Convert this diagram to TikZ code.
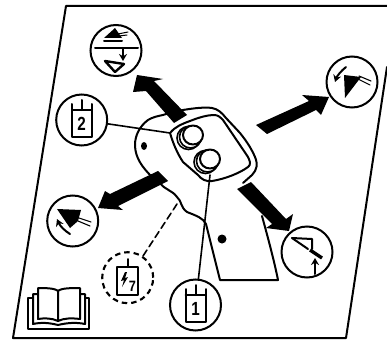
\documentclass[tikz,border=0pt]{standalone}
\usepackage{fontspec}
\setmainfont{Liberation Sans}
\usetikzlibrary{arrows.meta}
\tikzset{
  line/.style={draw=black,line width=2pt,line cap=round,line join=round},
  thinl/.style={draw=black,line width=1.6pt,line cap=round,line join=round},
  ring/.style={circle,draw=black,line width=2pt,minimum size=51pt,inner sep=0pt,fill=white},
  dashring/.style={circle,draw=black,line width=2.1pt,dash pattern=on 5.5pt off 4pt,minimum size=51pt,inner sep=0pt},
  bigarrow/.style={fill=black,draw=none},
  digit/.style={font=\bfseries\fontsize{19}{19}\selectfont,inner sep=0pt,xscale=.8},
  tipa/.style={-{Stealth[length=7pt,width=8pt]}},
}
\begin{document}
\begin{tikzpicture}[x=1pt,y=-1pt]
\useasboundingbox (0,0) rectangle (387,342);
% frame
\coordinate (fa) at (387,6); \coordinate (fb) at (66,6); \coordinate (fc) at (13,338);
\coordinate (fd) at (346,338); \coordinate (fe) at (387,67);
\draw[line] (fa) -- (fb) -- (fc) -- (fd) -- (fe);
% handle body
\draw[line] (163,115) .. controls (172,112) and (178,111) .. (183,110)
  .. controls (195,108) and (205,107) .. (212,108)
  .. controls (218,109) and (222,113) .. (226,118)
  -- (240,133) .. controls (248,143) and (252,150) .. (255,157) .. controls (258,164) and (257,170) .. (252,175) -- (243,183);
\draw[line] (262,216) .. controls (268,238) and (274,260) .. (278,280)
  -- (220,280) -- (206,224) .. controls (203,218) and (197,216) .. (187,212)
  .. controls (180,207) and (182,201) .. (177,197)
  .. controls (172,190) and (165,190) .. (160,183)
  -- (152,177) .. controls (143,168) and (135,158) .. (135,145)
  .. controls (135,135) and (140,126) .. (148,120) .. controls (153,117) and (158,116) .. (163,115);
% panel
\draw[line] (170,133) .. controls (176,126) and (182,124) .. (190,121)
  .. controls (200,117) and (208,115) .. (214,115)
  .. controls (218,115) and (220,117) .. (223,120)
  -- (246,154) .. controls (251,161) and (251,165) .. (248,167)
  .. controls (240,173) and (225,179) .. (212,181)
  .. controls (206,182) and (201,179) .. (198,175)
  -- (183,162) .. controls (177,153) and (173,143) .. (170,133) -- cycle;
% buttons
\foreach \bx/\by/\bn in {193/135/b, 210/159/a}{
  \draw[thinl] (\bx-4.5,\by+3) circle (11.5);
  \draw[thinl] (\bx-2.5,\by+2) circle (11);
  \draw[line,fill=white] (\bx,\by) ellipse [x radius=10,y radius=9.5];
}
% leaders, dashed wire
\node[ring] (two) at (81.7,120) {};
\node[ring] (one) at (195.5,305) {};
\node[dashring] (fuse) at (127.7,277.7) {};
\coordinate (hookb) at (170,133);
\coordinate (hooka) at (210,175);
\coordinate (hookc) at (177,204);
\draw[thinl] (two) -- (hookb);
\draw[thinl] (one) -- (hooka);
\draw[thinl,dash pattern=on 7pt off 4pt] (hookc) -- (143,256);
% dots
\fill (144,146) ellipse [x radius=3,y radius=4];
\fill (222,239) circle (4.5);
% big arrows
\fill[bigarrow] (137,75) -- (163,79) -- (154,81) -- (187,115) -- (174,123) -- (146,91) -- (133,92) -- cycle;
\fill[bigarrow] (329,97) -- (302,95) -- (309,101) -- (256,125) -- (267,134) -- (316,110) -- (321,115) -- cycle;
\fill[bigarrow] (98,208) -- (105,191) -- (110,194) -- (158,171) -- (168,181) -- (118,206) -- (123,210) -- cycle;
\fill[bigarrow] (289,231) -- (266,228) -- (272,224) -- (237,189) -- (251,182) -- (286,219) -- (293,214) -- cycle;
% icon circles
\node[ring,fill=none] (top) at (116,50.5) {};
\node[ring,fill=none] (rgt) at (352,82) {};
\node[ring,fill=none] (lft) at (72.7,221) {};
\node[ring,fill=none] (lrt) at (307,252) {};
% top icon
\draw[line] (95,48) -- (138,48);
\fill (104,38) -- (115,28) -- (122,38) -- cycle;
\draw[line] (104,41) -- (122,41);
\draw[thinl,line width=1pt] (118,34) -- (128,32) (119,36) -- (127,35);
\draw[line,tipa] (123,48) -- (123,61);
\draw[line,line width=2.4pt] (105,61) -- (124,64) -- (115,72) -- cycle;
% right icon
\fill (344,75) -- (361,77) -- (345,98) -- cycle;
\draw[thinl,line width=1.1pt] (359,76) -- (371,81) (358,79) -- (370,85);
\draw[line,tipa] (346,67) .. controls (341,71) and (337,76) .. (335,82);
% left icon
\fill (57,209) -- (81,210) -- (78,221) -- (70,228) -- cycle;
\draw[thinl,line width=1.1pt] (79,218) -- (91,222) (78,221) -- (90,226);
\draw[line,tipa] (70,234) .. controls (65,231) and (60,226) .. (57,219);
% lower right icon
\draw[line] (292,238) -- (312,239) -- (312,249);
\draw[line] (292,238) -- (308,249);
\draw[line width=3.4pt] (310,250) -- (322,258);
\draw[line,tipa] (315,274) -- (315,258);
% cylinders
\draw[line] (72,104) -- (72,137) -- (92,137) -- (92,104);
\draw[line] (72,110) -- (92,110) (81.7,100) -- (81.7,110);
\node[digit] (d2) at (81.7,124) {2};
\draw[line] (185.5,289) -- (185.5,322) -- (205.5,322) -- (205.5,289);
\draw[line] (185.5,295) -- (205.5,295) (195.5,285) -- (195.5,295);
\node[digit] (d1) at (195.5,309) {1};
\draw[line] (117,267) -- (117,295) -- (138,295) -- (138,267) -- cycle;
\draw[line] (127.7,259) -- (127.7,267);
\fill (125,272) -- (121,281) -- (124,280) -- (122,287) -- (128,277) -- (125,278) -- (127,272) -- cycle;
\node[font=\bfseries\fontsize{15}{15}\selectfont,inner sep=0pt,xscale=.85] (d7) at (132.5,286) {7};
% book
\draw[line] (58,291) .. controls (55,288) and (44,288) .. (38,288) -- (38,319)
  .. controls (44,318) and (52,318) .. (58,321)
  .. controls (64,318) and (72,318) .. (80,319) -- (80,288)
  .. controls (72,288) and (61,288) .. (58,291) -- (58,321);
\draw[line] (38,294) -- (33,294) -- (33,324) .. controls (42,322) and (50,323) .. (58,325)
  .. controls (66,323) and (76,322) .. (85,324) -- (85,294) -- (80,294);
\draw[line] (33,298) -- (28,298) -- (28,329) -- (89,329) -- (89,298) -- (85,298);
\end{tikzpicture}
\end{document}
